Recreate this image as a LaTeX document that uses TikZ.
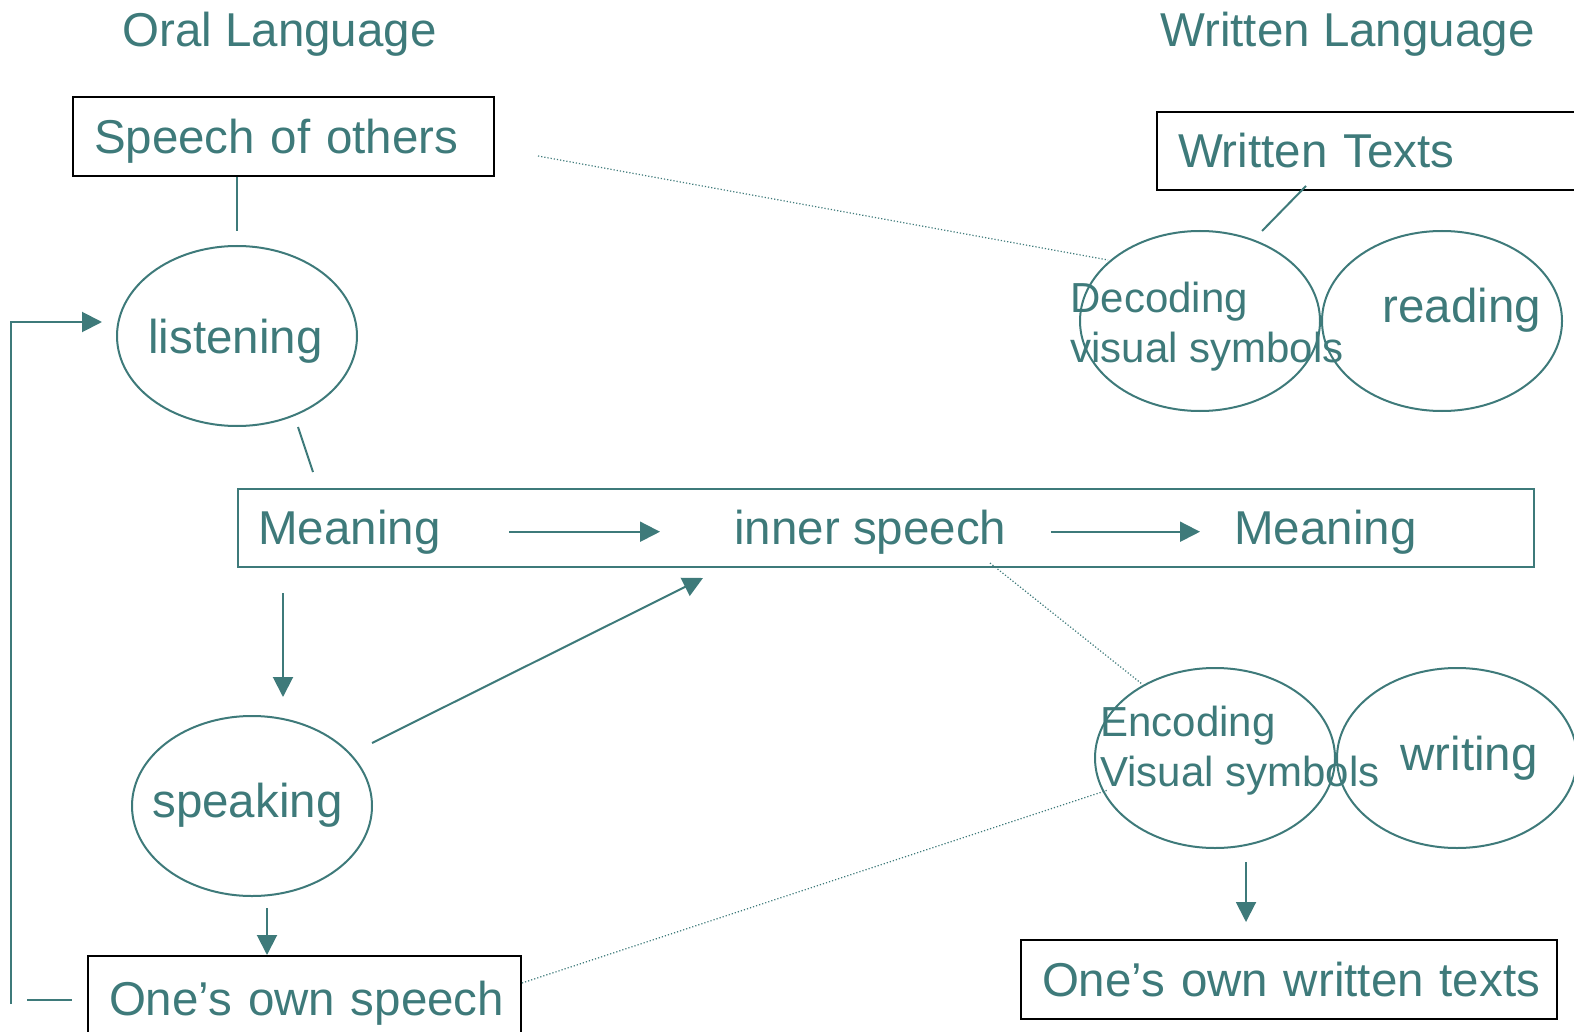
\documentclass[tikz,border=0pt]{standalone}
\usepackage{fontspec}
\setmainfont{Liberation Sans}
\usetikzlibrary{shapes.geometric,arrows.meta}

\definecolor{langteal}{RGB}{62,122,122}

\tikzset{
  bigtxt/.style={font=\fontsize{23.75}{28}\selectfont, text=langteal, inner sep=0pt},
  smalltxt/.style={font=\fontsize{21}{25}\selectfont, text=langteal, inner sep=0pt, align=left},
  textbox/.style={draw=black, line width=1pt, bigtxt, anchor=north west, inner xsep=10.5pt,
    inner ysep=0pt, text height=17pt, text depth=0pt, align=left},
  oval/.style={ellipse, draw=langteal, line width=1pt, minimum width=120pt, minimum height=90pt,
    inner sep=0pt},
  link/.style={draw=langteal, line width=1pt},
  flow/.style={link, -{Triangle[length=10pt,width=10pt]}},
  faint/.style={draw=langteal, line width=0.6pt, dash pattern=on 0.6pt off 1pt}
}

\begin{document}
\begin{tikzpicture}[x=0.5pt,y=-0.5pt]

        \useasboundingbox (0,0) rectangle (1574,1032);
        \clip (0,0) rectangle (1574,1032);

        % headings
        \node[bigtxt, anchor=base west] (oral)    at (122,47)  {Oral Language};
        \node[bigtxt, anchor=base west] (written) at (1160,47) {Written Language};

        % boxes
        \begin{scope}[every node/.style={textbox}]
          \node[text width=189.5pt, minimum height=39.5pt] (speech)     at (72,96)    {\mbox{Speech of others}};
          \node[text width=201pt,   minimum height=39pt]   (texts)      at (1156,111) {\mbox{Written Texts}};
          \node[text width=195.5pt, minimum height=42pt]   (ownspeech)  at (87,955)   {\mbox{One’s own speech}};
          \node[text width=247pt,   minimum height=39.5pt] (ownwritten) at (1020,939) {\mbox{One’s own written texts}};
        \end{scope}

        % ovals
        \begin{scope}[every node/.style={oval}]
          \node (listening) at (237,336) {};
          \node (speaking)  at (252,806) {};
          \node (decoding)  at (1200,321) {};
          \node (reading)   at (1442,321) {};
          \node (encoding)  at (1215,758) {};
          \node (writing)   at (1457,758) {};
        \end{scope}

        \begin{scope}[every node/.style={bigtxt, anchor=base west}]
          \node (listentxt) at (148,353)  {listening};
          \node (speaktxt)  at (152,817)  {speaking};
          \node (readtxt)   at (1382,322) {reading};
          \node (writetxt)  at (1400,770) {writing};
        \end{scope}
        \node[smalltxt, anchor=west] (decodetxt) at (1070,327) {Decoding\\visual symbols};
        \node[smalltxt, anchor=west] (encodetxt) at (1100,751) {Encoding\\Visual symbols};

        % meaning band
        \node[draw=langteal, line width=1pt, anchor=north west, minimum width=648pt,
          minimum height=39pt, inner sep=0pt] (band) at (237,488) {};
        \begin{scope}[every node/.style={bigtxt, anchor=base west}]
          \node (mean1) at (258,544)  {Meaning};
          \node (inner) at (734,544)  {inner speech};
          \node (mean2) at (1234,544) {Meaning};
        \end{scope}

        % free ends
        \coordinate (lisfoot)  at (298,427);
        \coordinate (bandtop)  at (313,472);
        \coordinate (bandfoot) at (283,593);
        \coordinate (speaktop) at (283,697);
        \coordinate (speakout) at (372,743);
        \coordinate (innerin)  at (703,578);
        \coordinate (speakbot) at (267,908);
        \coordinate (loopfoot) at (11,1004);
        \coordinate (looptip)  at (102,322);
        \coordinate (loopstub) at (27,1000);
        \coordinate (textfoot) at (1306,186);
        \coordinate (decotop)  at (1262,231);
        \coordinate (encobot)  at (1246,862);
        \coordinate (speechr)  at (538,156);
        \coordinate (decoleft) at (1108,260);
        \coordinate (bandbot)  at (990,563);
        \coordinate (encotop)  at (1142,684);
        \coordinate (ownright) at (522,983);
        \coordinate (encoleft) at (1108,790);

        % oral side
        \draw[link, shorten >=7pt] (listening.north |- speech.south) -- (listening.north);
        \draw[link] (lisfoot) -- (bandtop);
        \draw[flow, shorten <=34pt, shorten >=37pt] (mean1.east) -- (inner.west);
        \draw[flow, shorten <=22pt, shorten >=17pt] (inner.east) -- (mean2.west);
        \draw[flow] (bandfoot) -- (speaktop);
        \draw[flow] (speakout) -- (innerin);
        \draw[flow] (speakbot) -- (speakbot |- ownspeech.north);
        \draw[flow] (loopfoot) |- (looptip);
        \draw[link, shorten >=7.5pt] (loopstub) -- (loopstub -| ownspeech.west);

        % written side
        \draw[link] (textfoot) -- (decotop);
        \draw[flow, shorten >=8.5pt] (encobot) -- (encobot |- ownwritten.north);

        % dotted ties
        \draw[faint] (speechr) -- (decoleft);
        \draw[faint] (bandbot) -- (encotop);
        \draw[faint] (ownright) -- (encoleft);

\end{tikzpicture}
\end{document}
